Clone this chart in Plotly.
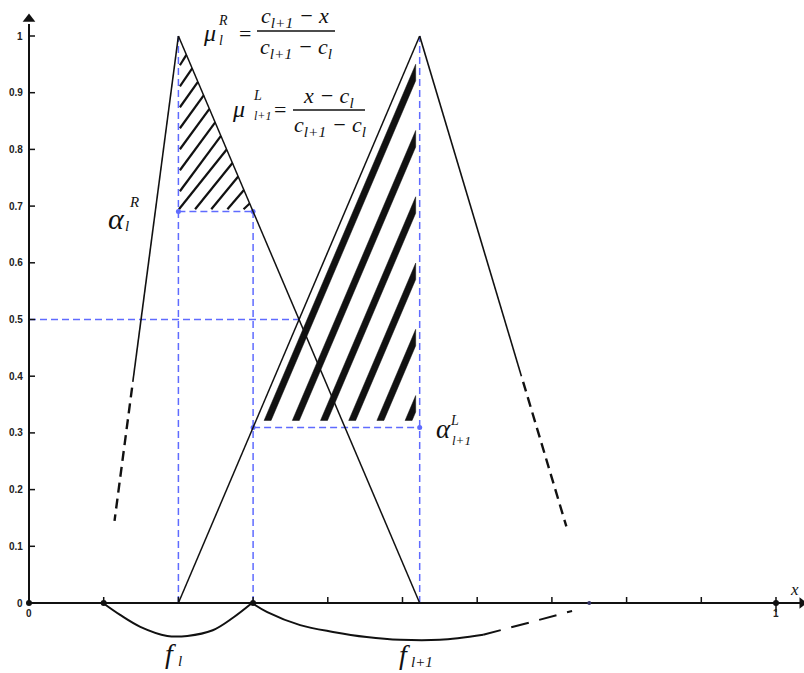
import plotly.graph_objects as go

# ------------------------------------------------------------------ data
y_tick_vals = [0.0, 0.1, 0.2, 0.3, 0.4, 0.5, 0.6, 0.7, 0.8, 0.9, 1.0]
y_tick_text = ["0", "0.1", "0.2", "0.3", "0.4", "0.5", "0.6", "0.7", "0.8", "0.9", "1"]
x_tick_vals = [0.1, 0.2, 0.3, 0.4, 0.5, 0.6, 0.7, 0.8, 0.9, 1.0]
x_label_vals = [0.0, 1.0]
x_label_text = ["0", "1"]

c_l = 0.2          # centre of fuzzy set l
c_l1 = 0.523       # centre of fuzzy set l+1
x_cut = 0.3        # crisp input x

# triangles: left foot, peak, right foot
tri_l = [0.1, 0.2, 0.523]
tri_l1 = [0.2, 0.523, 0.75]

# visible outer legs (membership grade ranges)
tri_l_left_solid_y = [1.0, 0.39]
tri_l_left_dash_y = [0.38, 0.145]
tri_l1_right_solid_y = [1.0, 0.40]
tri_l1_right_dash_y = [0.39, 0.135]

half_level = 0.5

axis_dot_x = [0.0, 0.1, 0.3, 1.0]
foot_dot_x = [0.75]

# braces under the x axis
brace_l_x = [0.099, 0.122, 0.149, 0.185, 0.212, 0.246, 0.273, 0.2985]
brace_l_y = [0.0, -0.021, -0.042, -0.058, -0.058, -0.048, -0.026, 0.0]
brace_l1_x = [0.2985, 0.319, 0.363, 0.407, 0.452, 0.497, 0.550, 0.608]
brace_l1_y = [0.0, -0.016, -0.039, -0.051, -0.060, -0.065, -0.065, -0.056]
brace_l1_dash_x = [0.608, 0.671, 0.727]
brace_l1_dash_y = [-0.056, -0.034, -0.014]

# ------------------------------------------------------------------ layout helpers
W, H = 804, 673
PX_X0, PX_X1 = 29, 776     # pixel of x=0 and x=1
PX_Y0, PX_Y1 = 603, 36     # pixel of y=0 and y=1
sx = (PX_X1 - PX_X0)
sy = (PX_Y0 - PX_Y1)
x_range = [-PX_X0 / sx, (W - PX_X0) / sx]
y_range = [(PX_Y0 - H) / sy, PX_Y0 / sy]

BLACK = "#111111"
BLUE = "#5f6bff"


def mu_R(x):   # right leg of set l
    return (c_l1 - x) / (c_l1 - c_l)


def mu_L(x):   # left leg of set l+1
    return (x - c_l) / (c_l1 - c_l)


alpha_R = mu_R(x_cut)
alpha_L = mu_L(x_cut)
x_half = (c_l + c_l1) / 2


def left_x(tri, y):
    return tri[0] + y * (tri[1] - tri[0])


def right_x(tri, y):
    return tri[2] - y * (tri[2] - tri[1])


fig = go.Figure()


def line(xs, ys, color=BLACK, width=1.6, dash=None, shape="linear"):
    fig.add_trace(go.Scatter(x=xs, y=ys, mode="lines",
                             line=dict(color=color, width=width, dash=dash, shape=shape,
                                       smoothing=1.0 if shape == "spline" else None),
                             hoverinfo="skip", showlegend=False))


# ---- hatch in triangle l (thin lines)
m1 = 1.30 * sx / sy   # pixel slope 1.30 converted to data slope
db = 21.0 / sy
b = 0.258
hx, hy = [], []
while b > -(x_cut - c_l) * m1 + 0.01:
    if b >= 0:
        xs0, ys0 = c_l + 0.002, alpha_R + b
    else:
        xs0, ys0 = c_l - b / m1, alpha_R + 0.004
    xe = c_l + (1 - alpha_R - b) / (m1 + 1 / (c_l1 - c_l))
    ye = alpha_R + b + m1 * (xe - c_l)
    hx += [xs0, xe, None]
    hy += [ys0, ye, None]
    b -= db
line(hx, hy, width=2.2)

# ---- hatch in triangle l+1 (thick stripes, parallel to left leg)
run = tri_l1[1] - tri_l1[0]
w = 7.0 / sx
sp = 28.2 / sx
x_first = x_cut + 11.0 / sx
yb = alpha_L + 7 / sy
xr = c_l1 - 4 / sx
px_, py_ = [], []
for k in range(6):
    x0 = x_first + k * sp
    px_ += [x0, x0 + w, xr, xr, x0, None]
    py_ += [yb, yb, yb + (xr - x0 - w) / run, yb + (xr - x0) / run, yb, None]
fig.add_trace(go.Scatter(x=px_, y=py_, mode="lines", fill="toself", fillcolor=BLACK,
                         line=dict(color=BLACK, width=0.5), hoverinfo="skip", showlegend=False))

# ---- blue dashed construction lines
bd = "7px,4px"
line([c_l, c_l], [0, 1], BLUE, 1.5, bd)
line([x_cut, x_cut], [0, alpha_R], BLUE, 1.5, bd)
line([c_l, x_cut], [alpha_R, alpha_R], BLUE, 1.5, bd)
line([x_cut, c_l1], [alpha_L, alpha_L], BLUE, 1.5, bd)
line([c_l1, c_l1], [0, 1], BLUE, 1.5, bd)
line([0, x_half], [half_level, half_level], BLUE, 1.5, bd)
fig.add_trace(go.Scatter(x=[c_l, x_cut, x_cut, c_l1], y=[alpha_R, alpha_R, alpha_L, alpha_L],
                         mode="markers", marker=dict(color=BLUE, size=5),
                         hoverinfo="skip", showlegend=False))

# ---- triangles
line([left_x(tri_l, y) for y in tri_l_left_solid_y], tri_l_left_solid_y, width=1.6)
line([left_x(tri_l, y) for y in tri_l_left_dash_y], tri_l_left_dash_y, width=2.4, dash="10px,6px")
line([tri_l[1], tri_l[2]], [1, 0], width=1.5)
line([tri_l1[0], tri_l1[1]], [0, 1], width=1.5)
line([right_x(tri_l1, y) for y in tri_l1_right_solid_y], tri_l1_right_solid_y, width=1.6)
line([right_x(tri_l1, y) for y in tri_l1_right_dash_y], tri_l1_right_dash_y, width=2.4, dash="10px,6px")

# ---- braces
line(brace_l_x, brace_l_y, width=2.0, shape="spline")
line(brace_l1_x, brace_l1_y, width=2.0, shape="spline")
line(brace_l1_dash_x, brace_l1_dash_y, width=2.0, dash="18px,11px", shape="spline")

# ---- axes (drawn on data scale)
y_top = (PX_Y0 - 24) / sy
x_right = (W - PX_X0) / sx
line([0, 0], [0, y_top], width=2.0)
line([0, x_right], [0, 0], width=2.0)
tx, ty = [], []
for v in y_tick_vals:
    tx += [0, 6 / sx, None]
    ty += [v, v, None]
for v in x_tick_vals:
    tx += [v, v, None]
    ty += [0, 6 / sy, None]
tx += [1.0, 1.0, None]
ty += [0, -9 / sy, None]
line(tx, ty, width=1.5)
fig.add_trace(go.Scatter(x=[0], y=[(PX_Y0 - 19) / sy], mode="markers",
                         marker=dict(symbol="triangle-up", size=11, color=BLACK),
                         hoverinfo="skip", showlegend=False))
fig.add_trace(go.Scatter(x=[(W - PX_X0 - 2) / sx], y=[0], mode="markers",
                         marker=dict(symbol="triangle-right", size=10, color=BLACK),
                         hoverinfo="skip", showlegend=False, cliponaxis=False))
fig.add_trace(go.Scatter(x=axis_dot_x, y=[0] * len(axis_dot_x), mode="markers",
                         marker=dict(size=6, color=BLACK), hoverinfo="skip", showlegend=False))
fig.add_trace(go.Scatter(x=foot_dot_x, y=[0] * len(foot_dot_x), mode="markers",
                         marker=dict(size=4, color="#333366"), hoverinfo="skip", showlegend=False))

TICKFONT = dict(family="Liberation Sans", size=10, color="#222222", weight="bold")
annotations = []
for v, t in zip(y_tick_vals, y_tick_text):
    annotations.append(dict(x=0, y=v, xref="x", yref="y", text=t,
                            xanchor="right", yanchor="middle", xshift=-4, showarrow=False,
                            font=TICKFONT))
for v, t in zip(x_label_vals, x_label_text):
    annotations.append(dict(x=v, y=0, xref="x", yref="y", text=t,
                            xanchor="center", yanchor="top", yshift=-3, showarrow=False,
                            font=TICKFONT))

SERIF = "Liberation Serif"


def txt(text, px, py, size, italic=True, anchor="center"):
    annotations.append(dict(x=px / W, y=1 - py / H, xref="paper", yref="paper",
                            text=text, xanchor=anchor, yanchor="middle", showarrow=False,
                            font=dict(family=SERIF, size=size, color=BLACK,
                                      style="italic" if italic else "normal")))


shapes = []


def bar(px0, px1, py):
    shapes.append(dict(type="line", xref="paper", yref="paper",
                       x0=px0 / W, x1=px1 / W, y0=1 - py / H, y1=1 - py / H,
                       line=dict(color=BLACK, width=1.4)))


# formula 1
txt("μ", 209, 33, 24)
txt("R", 223, 20, 14)
txt("l", 221, 40, 14)
txt("=", 245, 33, 22, italic=False)
txt("c<sub>l+1</sub> − x", 295, 17, 22)
bar(257, 335, 31)
txt("c<sub>l+1</sub> − c<sub>l</sub>", 296, 48, 22)

# formula 2
txt("μ", 238, 109, 24)
txt("L", 257, 96, 14)
txt("l+1", 262, 116, 12)
txt("=", 280, 110, 22, italic=False)
txt("x − c<sub>l</sub>", 328, 97, 22)
bar(293, 365, 110)
txt("c<sub>l+1</sub> − c<sub>l</sub>", 330, 126, 22)

# alpha labels
txt("α", 116, 219, 30)
txt("R", 134, 202, 15)
txt("l", 127, 226, 15)
txt("α", 443, 429, 27)
txt("L", 454, 420, 14)
txt("l+1", 461, 440, 13)

# f labels
txt("f", 170, 653, 28)
txt("l", 180, 661, 15)
txt("f", 404, 654, 28)
txt("l+1", 422, 662, 15)

# x axis name
txt("x", 794, 589, 17)

fig.update_layout(
    width=W, height=H,
    margin=dict(l=0, r=0, t=0, b=0, pad=0, autoexpand=False),
    paper_bgcolor="white", plot_bgcolor="white",
    xaxis=dict(range=x_range, visible=False, fixedrange=True),
    yaxis=dict(range=y_range, visible=False, fixedrange=True),
    annotations=annotations, shapes=shapes, showlegend=False,
)
fig.write_html("out.html", config={"displayModeBar": False},
               post_script="document.body.style.margin='0';document.body.style.overflow='hidden';")
